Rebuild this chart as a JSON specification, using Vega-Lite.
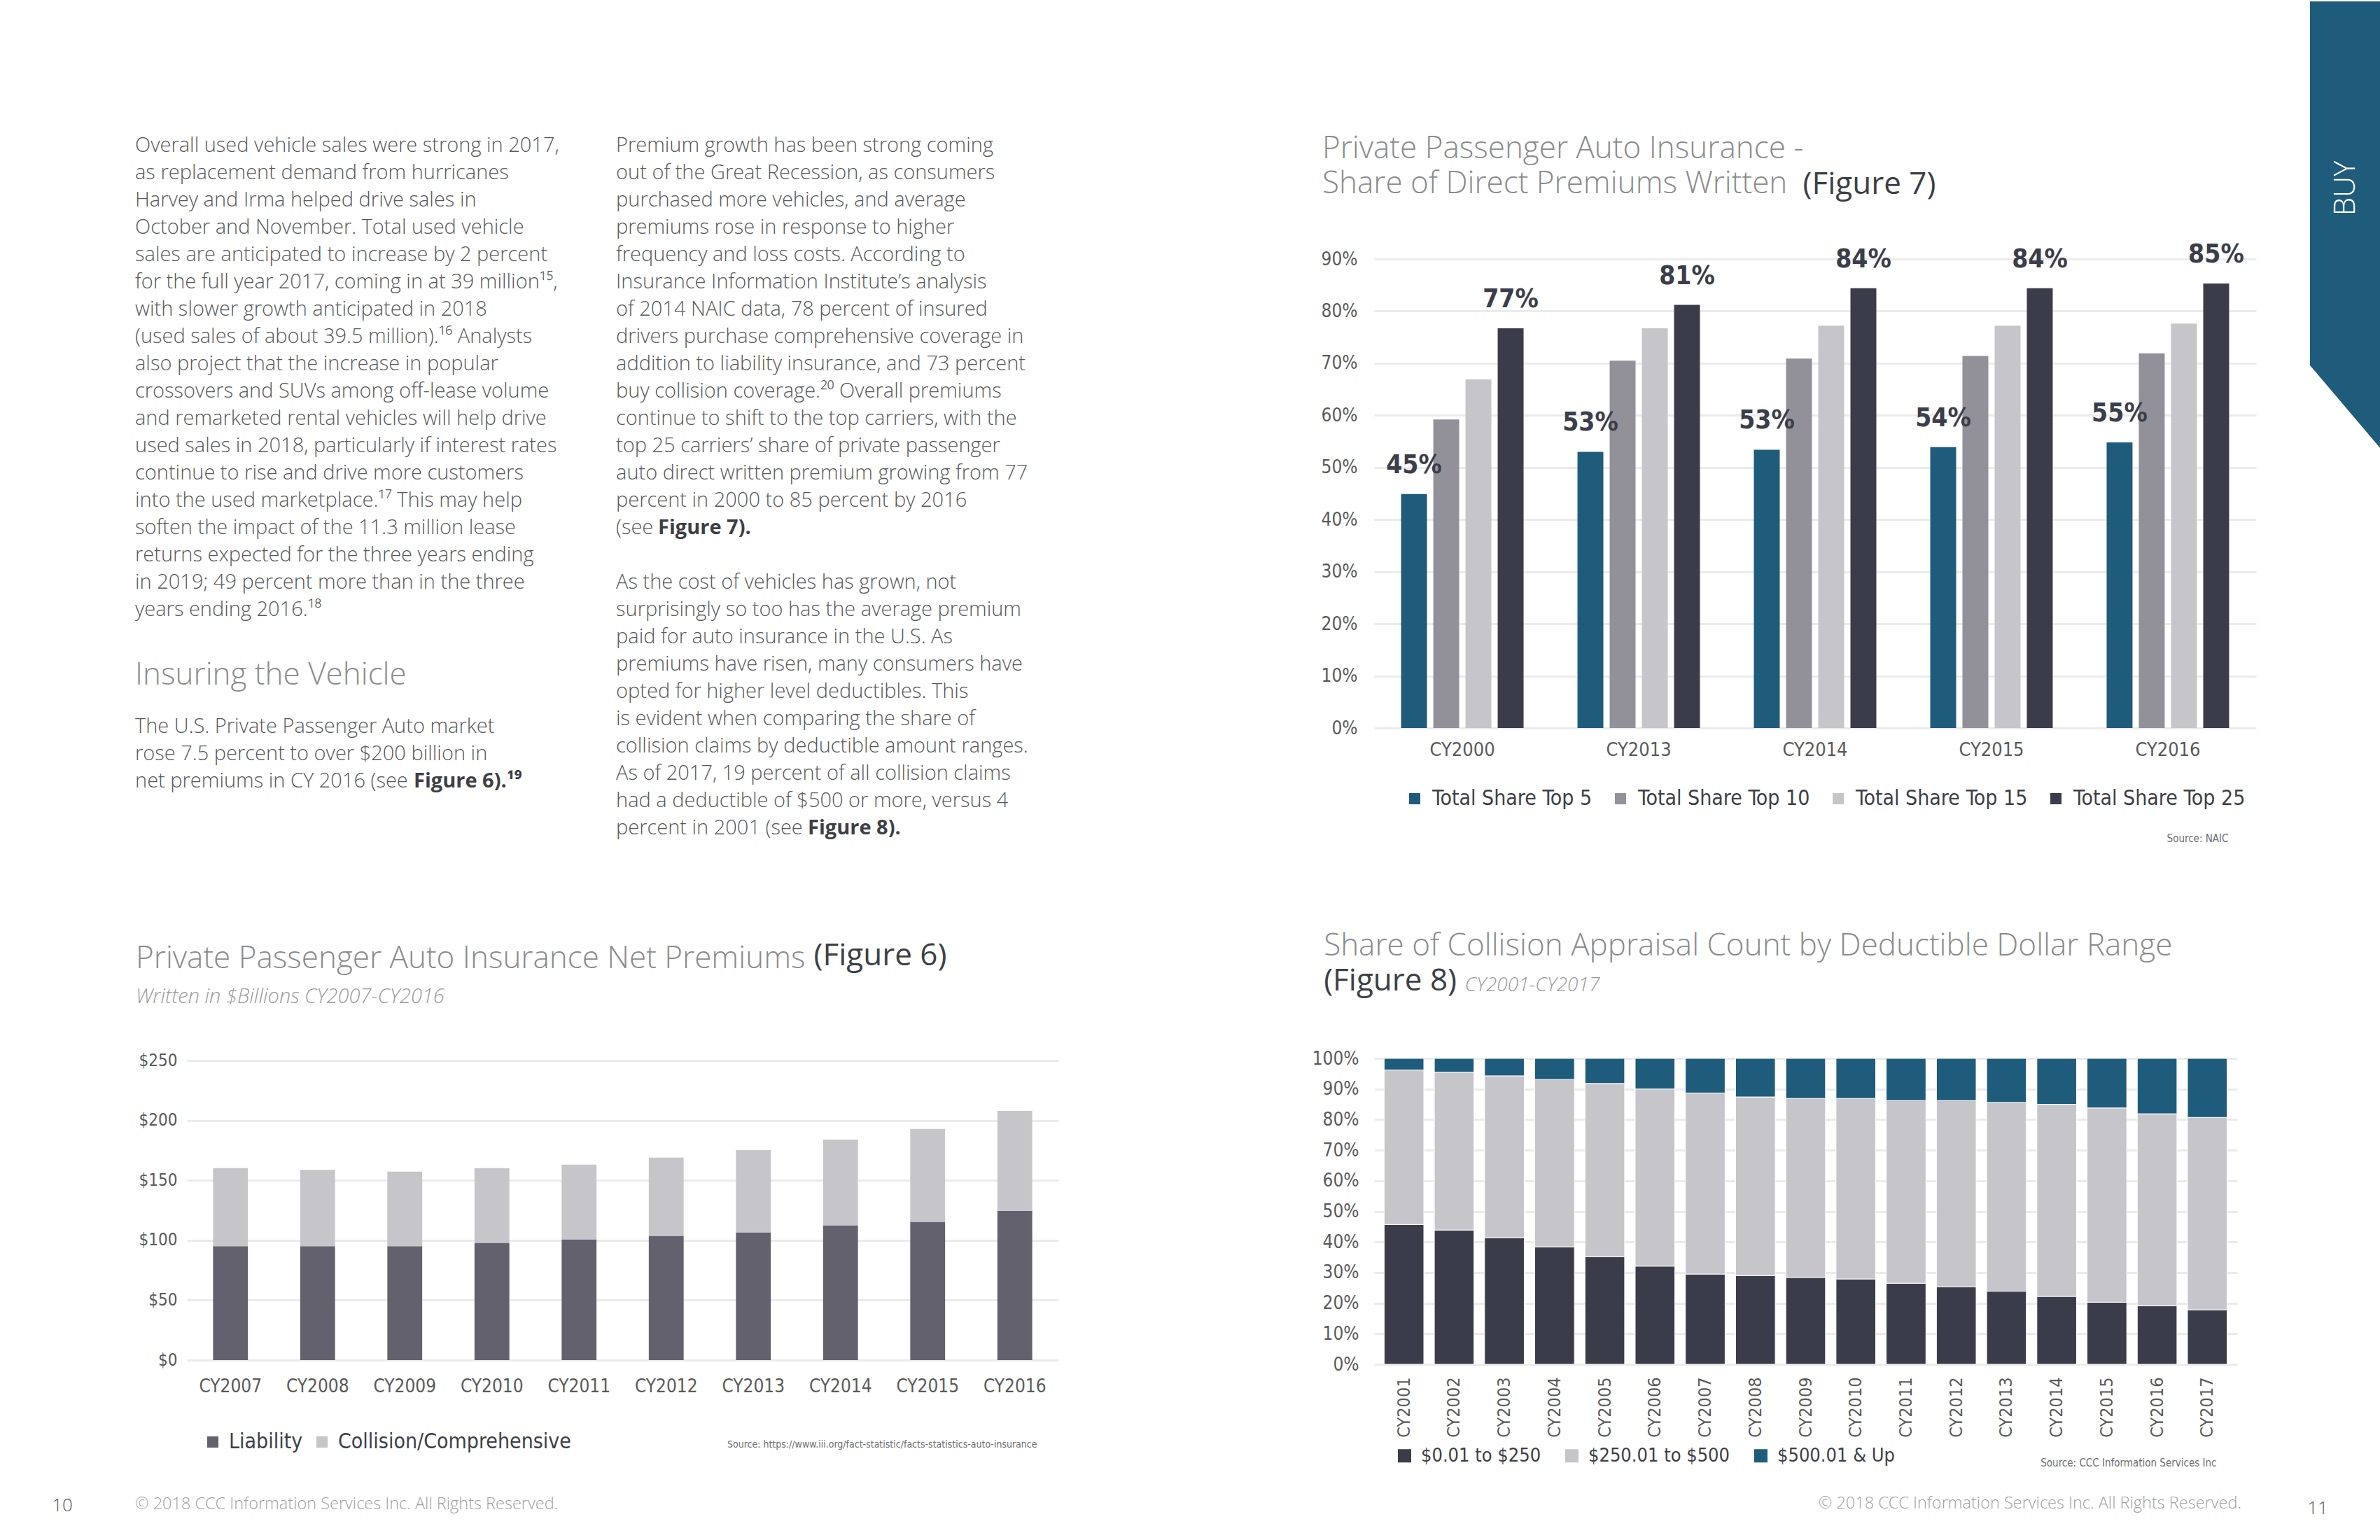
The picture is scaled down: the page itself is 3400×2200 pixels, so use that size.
{
  "$schema": "https://vega.github.io/schema/vega-lite/v6.json",
  "background": "white",
  "padding": 0,
  "spacing": 15,
  "resolve": {"scale": {"color": "independent", "x": "independent", "y": "independent"}, "legend": {"color": "independent"}},
  "config": {
    "view": {"stroke": null},
    "axis": {"domain": false, "ticks": false, "labelFont": "'Liberation Sans Narrow', 'DejaVu Sans Condensed', 'Roboto Condensed', Roboto, sans-serif", "labelColor": "#5a5a5a", "labelFontSize": 26, "gridColor": "#ebebeb", "gridWidth": 3},
    "legend": {"labelFont": "'Liberation Sans Narrow', 'DejaVu Sans Condensed', 'Roboto Condensed', Roboto, sans-serif", "labelColor": "#3d3f47", "labelFontSize": 30, "symbolType": "square", "symbolStrokeWidth": 0, "direction": "horizontal", "labelLimit": 600}
  },
  "hconcat": [
    {
      "width": 178, "height": 1781,
      "data": {"values": [{"t": "10"}]},
      "mark": {"type": "text", "font": "'Open Sans', Lato, sans-serif", "fontSize": 26, "fontWeight": 300, "color": "#555555", "align": "center", "baseline": "middle"},
      "encoding": {"text": {"field": "t"}, "y": {"value": "height"}}
    },
    {
      "spacing": 362,
      "resolve": {"scale": {"color": "independent", "x": "independent", "y": "independent"}, "legend": {"color": "independent"}},
      "hconcat": [
        {
          "spacing": 0,
          "resolve": {"scale": {"color": "independent", "x": "independent", "y": "independent"}, "legend": {"color": "independent"}},
          "vconcat": [
            {
              "width": 1245, "height": 973,
              "data": {"values": [
                {"col": 1, "line": 0, "kind": "body", "text": "Overall used vehicle sales were strong in 2017,"},
                {"col": 1, "line": 1, "kind": "body", "text": "as replacement demand from hurricanes"},
                {"col": 1, "line": 2, "kind": "body", "text": "Harvey and Irma helped drive sales in"},
                {"col": 1, "line": 3, "kind": "body", "text": "October and November.  Total used vehicle"},
                {"col": 1, "line": 4, "kind": "body", "text": "sales are anticipated to increase by 2 percent"},
                {"col": 1, "line": 5, "kind": "body", "text": "for the full year 2017, coming in at 39 million¹⁵,"},
                {"col": 1, "line": 6, "kind": "body", "text": "with slower growth anticipated in 2018"},
                {"col": 1, "line": 7, "kind": "body", "text": "(used sales of about 39.5 million).¹⁶  Analysts"},
                {"col": 1, "line": 8, "kind": "body", "text": "also project that the increase in popular"},
                {"col": 1, "line": 9, "kind": "body", "text": "crossovers and SUVs among off-lease volume"},
                {"col": 1, "line": 10, "kind": "body", "text": "and remarketed rental vehicles will help drive"},
                {"col": 1, "line": 11, "kind": "body", "text": "used sales in 2018, particularly if interest rates"},
                {"col": 1, "line": 12, "kind": "body", "text": "continue to rise and drive more customers"},
                {"col": 1, "line": 13, "kind": "body", "text": "into the used marketplace.¹⁷  This may help"},
                {"col": 1, "line": 14, "kind": "body", "text": "soften the impact of the 11.3 million lease"},
                {"col": 1, "line": 15, "kind": "body", "text": "returns expected for the three years ending"},
                {"col": 1, "line": 16, "kind": "body", "text": "in 2019; 49 percent more than in the three"},
                {"col": 1, "line": 17, "kind": "body", "text": "years ending 2016.¹⁸"},
                {"col": 1, "line": 19.41, "kind": "head", "text": "Insuring the Vehicle"},
                {"col": 1, "line": 21.28, "kind": "body", "text": "The U.S. Private Passenger Auto market"},
                {"col": 1, "line": 22.28, "kind": "body", "text": "rose 7.5 percent to over $200 billion in"},
                {"col": 1, "line": 23.28, "kind": "body", "text": "net premiums in CY 2016 (see"},
                {"col": 1, "line": 23.28, "kind": "b6", "text": "Figure 6).¹⁹"},
                {"col": 2, "line": 0, "kind": "body", "text": "Premium growth has been strong coming"},
                {"col": 2, "line": 1, "kind": "body", "text": "out of the Great Recession, as consumers"},
                {"col": 2, "line": 2, "kind": "body", "text": "purchased more vehicles, and average"},
                {"col": 2, "line": 3, "kind": "body", "text": "premiums rose in response to higher"},
                {"col": 2, "line": 4, "kind": "body", "text": "frequency and loss costs.  According to"},
                {"col": 2, "line": 5, "kind": "body", "text": "Insurance Information Institute’s analysis"},
                {"col": 2, "line": 6, "kind": "body", "text": "of 2014 NAIC data, 78 percent of insured"},
                {"col": 2, "line": 7, "kind": "body", "text": "drivers purchase comprehensive coverage in"},
                {"col": 2, "line": 8, "kind": "body", "text": "addition to liability insurance, and 73 percent"},
                {"col": 2, "line": 9, "kind": "body", "text": "buy collision coverage.²⁰  Overall premiums"},
                {"col": 2, "line": 10, "kind": "body", "text": "continue to shift to the top carriers, with the"},
                {"col": 2, "line": 11, "kind": "body", "text": "top 25 carriers’ share of private passenger"},
                {"col": 2, "line": 12, "kind": "body", "text": "auto direct written premium growing from 77"},
                {"col": 2, "line": 13, "kind": "body", "text": "percent in 2000 to 85 percent by 2016"},
                {"col": 2, "line": 14, "kind": "body", "text": "(see"},
                {"col": 2, "line": 14, "kind": "b7", "text": "Figure 7)."},
                {"col": 2, "line": 16, "kind": "body", "text": "As the cost of vehicles has grown, not"},
                {"col": 2, "line": 17, "kind": "body", "text": "surprisingly so too has the average premium"},
                {"col": 2, "line": 18, "kind": "body", "text": "paid for auto insurance in the U.S.  As"},
                {"col": 2, "line": 19, "kind": "body", "text": "premiums have risen, many consumers have"},
                {"col": 2, "line": 20, "kind": "body", "text": "opted for higher level deductibles.  This"},
                {"col": 2, "line": 21, "kind": "body", "text": "is evident when comparing the share of"},
                {"col": 2, "line": 22, "kind": "body", "text": "collision claims by deductible amount ranges."},
                {"col": 2, "line": 23, "kind": "body", "text": "As of 2017, 19 percent of all collision claims"},
                {"col": 2, "line": 24, "kind": "body", "text": "had a deductible of $500 or more, versus 4"},
                {"col": 2, "line": 25, "kind": "body", "text": "percent in 2001 (see"},
                {"col": 2, "line": 25, "kind": "b8", "text": "Figure 8)."}
              ]},
              "encoding": {
                "x": {"field": "col", "type": "quantitative", "scale": {"domain": [1.1077, 2.9199], "nice": false, "zero": false}, "axis": null},
                "y": {"field": "line", "type": "quantitative", "scale": {"domain": [4.154, 29.103], "reverse": true, "nice": false, "zero": false}, "axis": null},
                "text": {"field": "text"}
              },
              "layer": [
                {"transform": [{"filter": "datum.kind == 'body'"}], "mark": {"type": "text", "align": "left", "baseline": "middle", "font": "'Open Sans', Lato, sans-serif", "fontSize": 29, "fontWeight": 300, "color": "#58595b"}},
                {"transform": [{"filter": "datum.kind == 'head'"}], "mark": {"type": "text", "align": "left", "baseline": "middle", "font": "'Open Sans', Lato, sans-serif", "fontSize": 44, "fontWeight": 300, "color": "#8b8c8e"}},
                {"transform": [{"filter": "datum.kind == 'b6'"}], "mark": {"type": "text", "align": "left", "baseline": "middle", "dx": 398, "font": "'Open Sans', Lato, sans-serif", "fontSize": 29, "fontWeight": "bold", "color": "#3d3f47"}},
                {"transform": [{"filter": "datum.kind == 'b7'"}], "mark": {"type": "text", "align": "left", "baseline": "middle", "dx": 60, "font": "'Open Sans', Lato, sans-serif", "fontSize": 29, "fontWeight": "bold", "color": "#3d3f47"}},
                {"transform": [{"filter": "datum.kind == 'b8'"}], "mark": {"type": "text", "align": "left", "baseline": "middle", "dx": 274, "font": "'Open Sans', Lato, sans-serif", "fontSize": 29, "fontWeight": "bold", "color": "#3d3f47"}}
              ]
            },
            {
              "width": 1245, "height": 428,
              "title": {"text": "Private Passenger Auto Insurance Net Premiums", "subtitle": "Written in $Billions CY2007-CY2016", "anchor": "start", "frame": "bounds", "dx": -4, "offset": -96, "font": "'Open Sans', Lato, sans-serif", "fontSize": 44, "fontWeight": 300, "color": "#8a8b8d", "subtitleFont": "'Open Sans', Lato, sans-serif", "subtitleFontSize": 29, "subtitleFontStyle": "italic", "subtitleFontWeight": 300, "subtitleColor": "#9a9a9c", "subtitlePadding": 18},
              "data": {"values": [
                {"year": "CY2007", "type": "Liability", "value": 95.0}, {"year": "CY2007", "type": "Collision/Comprehensive", "value": 65.2},
                {"year": "CY2008", "type": "Liability", "value": 95.0}, {"year": "CY2008", "type": "Collision/Comprehensive", "value": 63.7},
                {"year": "CY2009", "type": "Liability", "value": 95.0}, {"year": "CY2009", "type": "Collision/Comprehensive", "value": 62.3},
                {"year": "CY2010", "type": "Liability", "value": 97.9}, {"year": "CY2010", "type": "Collision/Comprehensive", "value": 62.3},
                {"year": "CY2011", "type": "Liability", "value": 100.8}, {"year": "CY2011", "type": "Collision/Comprehensive", "value": 62.3},
                {"year": "CY2012", "type": "Liability", "value": 103.7}, {"year": "CY2012", "type": "Collision/Comprehensive", "value": 65.2},
                {"year": "CY2013", "type": "Liability", "value": 106.6}, {"year": "CY2013", "type": "Collision/Comprehensive", "value": 68.7},
                {"year": "CY2014", "type": "Liability", "value": 112.4}, {"year": "CY2014", "type": "Collision/Comprehensive", "value": 71.6},
                {"year": "CY2015", "type": "Liability", "value": 115.3}, {"year": "CY2015", "type": "Collision/Comprehensive", "value": 77.6},
                {"year": "CY2016", "type": "Liability", "value": 124.6}, {"year": "CY2016", "type": "Collision/Comprehensive", "value": 83.4}
              ]},
              "mark": {"type": "bar"},
              "encoding": {
                "x": {"field": "year", "type": "nominal", "scale": {"paddingInner": 0.6, "paddingOuter": 0.3}, "axis": {"labelAngle": 0, "labelPadding": 24, "title": "Source: https://www.iii.org/fact-statistic/facts-statistics-auto-insurance", "titleX": 1214, "titleY": 120, "titleAlign": "right", "titleBaseline": "middle", "titleFont": "'Liberation Sans Narrow', 'DejaVu Sans Condensed', 'Roboto Condensed', Roboto, sans-serif", "titleFontSize": 14, "titleFontWeight": "normal", "titleColor": "#6d6e70"}},
                "y": {"field": "value", "type": "quantitative", "stack": "zero", "scale": {"domain": [0, 250], "nice": false}, "axis": {"values": [0, 50, 100, 150, 200, 250], "labelExpr": "'$' + datum.value", "labelFontSize": 24, "labelPadding": 14, "title": "(Figure 6)", "titleAngle": 0, "titleX": 895, "titleY": -137, "titleAlign": "left", "titleBaseline": "alphabetic", "titleFont": "'Open Sans', Lato, sans-serif", "titleFontSize": 44, "titleFontWeight": 400, "titleColor": "#3d3f47"}},
                "color": {"field": "type", "type": "nominal", "scale": {"domain": ["Liability", "Collision/Comprehensive"], "range": ["#63616e", "#c6c5ca"]}, "legend": {"title": null, "orient": "none", "legendX": 22, "legendY": 530, "columnPadding": 12, "symbolSize": 256, "labelOffset": 8}},
                "order": {"field": "type", "sort": "descending"}
              }
            },
            {
              "width": 1245, "height": 148,
              "data": {"values": [{"col": 1, "t": "© 2018 CCC Information Services Inc. All Rights Reserved."}]},
              "mark": {"type": "text", "align": "left", "baseline": "middle", "font": "'Open Sans', Lato, sans-serif", "fontSize": 23.5, "fontWeight": 300, "color": "#a0a0a2"},
              "encoding": {"text": {"field": "t"}, "x": {"field": "col", "type": "quantitative", "scale": {"domain": [1.1077, 2.9199], "nice": false, "zero": false}, "axis": null}}
            }
          ]
        },
        {
          "spacing": 73,
          "resolve": {"scale": {"color": "independent", "x": "independent", "y": "independent"}, "legend": {"color": "independent"}},
          "hconcat": [
            {
              "spacing": 0,
              "resolve": {"scale": {"color": "independent", "x": "independent", "y": "independent"}, "legend": {"color": "independent"}},
              "vconcat": [
                {
                  "width": 1260, "height": 670,
                  "title": {"text": ["", "Private Passenger Auto Insurance -"], "lineHeight": 191, "subtitle": "Share of Direct Premiums Written", "anchor": "start", "frame": "bounds", "dx": 2, "offset": -44, "font": "'Open Sans', Lato, sans-serif", "fontSize": 44, "fontWeight": 300, "color": "#8a8b8d", "subtitleFont": "'Open Sans', Lato, sans-serif", "subtitleFontSize": 44, "subtitleFontWeight": 300, "subtitleColor": "#8a8b8d", "subtitlePadding": 6},
                  "data": {"values": [
                    {"year": "CY2000", "series": "Total Share Top 5", "share": 0.449}, {"year": "CY2000", "series": "Total Share Top 10", "share": 0.592}, {"year": "CY2000", "series": "Total Share Top 15", "share": 0.669}, {"year": "CY2000", "series": "Total Share Top 25", "share": 0.767},
                    {"year": "CY2013", "series": "Total Share Top 5", "share": 0.530}, {"year": "CY2013", "series": "Total Share Top 10", "share": 0.705}, {"year": "CY2013", "series": "Total Share Top 15", "share": 0.767}, {"year": "CY2013", "series": "Total Share Top 25", "share": 0.812},
                    {"year": "CY2014", "series": "Total Share Top 5", "share": 0.534}, {"year": "CY2014", "series": "Total Share Top 10", "share": 0.709}, {"year": "CY2014", "series": "Total Share Top 15", "share": 0.772}, {"year": "CY2014", "series": "Total Share Top 25", "share": 0.844},
                    {"year": "CY2015", "series": "Total Share Top 5", "share": 0.539}, {"year": "CY2015", "series": "Total Share Top 10", "share": 0.714}, {"year": "CY2015", "series": "Total Share Top 15", "share": 0.772}, {"year": "CY2015", "series": "Total Share Top 25", "share": 0.844},
                    {"year": "CY2016", "series": "Total Share Top 5", "share": 0.548}, {"year": "CY2016", "series": "Total Share Top 10", "share": 0.719}, {"year": "CY2016", "series": "Total Share Top 15", "share": 0.776}, {"year": "CY2016", "series": "Total Share Top 25", "share": 0.853}
                  ]},
                  "encoding": {
                    "x": {"field": "year", "type": "nominal", "scale": {"paddingInner": 0.3056, "paddingOuter": 0.153}, "axis": {"labelAngle": 0, "labelPadding": 18, "labelFontSize": 27, "title": "Source: NAIC", "titleX": 1220, "titleY": 157, "titleAlign": "right", "titleBaseline": "middle", "titleFont": "'Liberation Sans Narrow', 'DejaVu Sans Condensed', 'Roboto Condensed', Roboto, sans-serif", "titleFontSize": 15, "titleFontWeight": "normal", "titleColor": "#6d6e70"}},
                    "xOffset": {"field": "series", "type": "nominal", "scale": {"domain": ["Total Share Top 5", "Total Share Top 10", "Total Share Top 15", "Total Share Top 25"], "paddingInner": 0.196, "paddingOuter": 0}},
                    "y": {"field": "share", "type": "quantitative", "scale": {"domain": [0, 0.9], "nice": false}, "axis": {"values": [0, 0.1, 0.2, 0.3, 0.4, 0.5, 0.6, 0.7, 0.8, 0.9], "format": ".0%", "labelPadding": 24, "title": "(Figure 7)", "titleAngle": 0, "titleX": 612, "titleY": -94, "titleAlign": "left", "titleBaseline": "alphabetic", "titleFont": "'Open Sans', Lato, sans-serif", "titleFontSize": 44, "titleFontWeight": 400, "titleColor": "#3d3f47"}}
                  },
                  "layer": [
                    {"mark": {"type": "bar"}, "encoding": {"color": {"field": "series", "type": "nominal", "scale": {"domain": ["Total Share Top 5", "Total Share Top 10", "Total Share Top 15", "Total Share Top 25"], "range": ["#1f5c7c", "#929199", "#c6c5ca", "#3a3d49"]}, "legend": {"title": null, "orient": "none", "legendX": 43, "legendY": 756, "columnPadding": 25, "symbolSize": 256, "labelOffset": 10}}}},
                    {"transform": [{"filter": "datum.series == 'Total Share Top 5' || datum.series == 'Total Share Top 25'"}], "mark": {"type": "text", "baseline": "alphabetic", "dy": -30, "font": "'Liberation Sans Narrow', 'DejaVu Sans Condensed', 'Roboto Condensed', Roboto, sans-serif", "fontSize": 37, "fontWeight": 600, "color": "#3b3e4a"}, "encoding": {"text": {"field": "share", "format": ".0%"}}}
                  ]
                },
                {
                  "width": 1233, "height": 437,
                  "title": {"text": ["", "Share of Collision Appraisal Count by Deductible Dollar Range"], "lineHeight": 125, "subtitle": "(Figure 8)", "anchor": "start", "frame": "bounds", "dx": 17, "offset": -31, "font": "'Open Sans', Lato, sans-serif", "fontSize": 44, "fontWeight": 300, "color": "#8a8b8d", "subtitleFont": "'Open Sans', Lato, sans-serif", "subtitleFontSize": 44, "subtitleFontWeight": 400, "subtitleColor": "#3d3f47", "subtitlePadding": 6},
                  "data": {"values": [
                    {"year": "CY2001", "range": "$0.01 to $250", "share": 0.457}, {"year": "CY2001", "range": "$250.01 to $500", "share": 0.505}, {"year": "CY2001", "range": "$500.01 & Up", "share": 0.038},
                    {"year": "CY2002", "range": "$0.01 to $250", "share": 0.439}, {"year": "CY2002", "range": "$250.01 to $500", "share": 0.516}, {"year": "CY2002", "range": "$500.01 & Up", "share": 0.045},
                    {"year": "CY2003", "range": "$0.01 to $250", "share": 0.414}, {"year": "CY2003", "range": "$250.01 to $500", "share": 0.529}, {"year": "CY2003", "range": "$500.01 & Up", "share": 0.057},
                    {"year": "CY2004", "range": "$0.01 to $250", "share": 0.384}, {"year": "CY2004", "range": "$250.01 to $500", "share": 0.547}, {"year": "CY2004", "range": "$500.01 & Up", "share": 0.069},
                    {"year": "CY2005", "range": "$0.01 to $250", "share": 0.352}, {"year": "CY2005", "range": "$250.01 to $500", "share": 0.566}, {"year": "CY2005", "range": "$500.01 & Up", "share": 0.082},
                    {"year": "CY2006", "range": "$0.01 to $250", "share": 0.321}, {"year": "CY2006", "range": "$250.01 to $500", "share": 0.579}, {"year": "CY2006", "range": "$500.01 & Up", "share": 0.100},
                    {"year": "CY2007", "range": "$0.01 to $250", "share": 0.295}, {"year": "CY2007", "range": "$250.01 to $500", "share": 0.592}, {"year": "CY2007", "range": "$500.01 & Up", "share": 0.113},
                    {"year": "CY2008", "range": "$0.01 to $250", "share": 0.290}, {"year": "CY2008", "range": "$250.01 to $500", "share": 0.584}, {"year": "CY2008", "range": "$500.01 & Up", "share": 0.126},
                    {"year": "CY2009", "range": "$0.01 to $250", "share": 0.284}, {"year": "CY2009", "range": "$250.01 to $500", "share": 0.585}, {"year": "CY2009", "range": "$500.01 & Up", "share": 0.131},
                    {"year": "CY2010", "range": "$0.01 to $250", "share": 0.279}, {"year": "CY2010", "range": "$250.01 to $500", "share": 0.590}, {"year": "CY2010", "range": "$500.01 & Up", "share": 0.131},
                    {"year": "CY2011", "range": "$0.01 to $250", "share": 0.265}, {"year": "CY2011", "range": "$250.01 to $500", "share": 0.597}, {"year": "CY2011", "range": "$500.01 & Up", "share": 0.138},
                    {"year": "CY2012", "range": "$0.01 to $250", "share": 0.253}, {"year": "CY2012", "range": "$250.01 to $500", "share": 0.609}, {"year": "CY2012", "range": "$500.01 & Up", "share": 0.138},
                    {"year": "CY2013", "range": "$0.01 to $250", "share": 0.239}, {"year": "CY2013", "range": "$250.01 to $500", "share": 0.617}, {"year": "CY2013", "range": "$500.01 & Up", "share": 0.144},
                    {"year": "CY2014", "range": "$0.01 to $250", "share": 0.222}, {"year": "CY2014", "range": "$250.01 to $500", "share": 0.628}, {"year": "CY2014", "range": "$500.01 & Up", "share": 0.150},
                    {"year": "CY2015", "range": "$0.01 to $250", "share": 0.203}, {"year": "CY2015", "range": "$250.01 to $500", "share": 0.635}, {"year": "CY2015", "range": "$500.01 & Up", "share": 0.162},
                    {"year": "CY2016", "range": "$0.01 to $250", "share": 0.191}, {"year": "CY2016", "range": "$250.01 to $500", "share": 0.628}, {"year": "CY2016", "range": "$500.01 & Up", "share": 0.181},
                    {"year": "CY2017", "range": "$0.01 to $250", "share": 0.178}, {"year": "CY2017", "range": "$250.01 to $500", "share": 0.629}, {"year": "CY2017", "range": "$500.01 & Up", "share": 0.193}
                  ]},
                  "mark": {"type": "bar", "stroke": "white", "strokeWidth": 1},
                  "encoding": {
                    "x": {"field": "year", "type": "nominal", "scale": {"paddingInner": 0.21, "paddingOuter": 0.2}, "axis": {"labelAngle": -90, "labelPadding": 18, "labelFontSize": 25, "title": "Source: CCC Information Services Inc", "titleX": 1203, "titleY": 140, "titleAlign": "right", "titleBaseline": "middle", "titleFont": "'Liberation Sans Narrow', 'DejaVu Sans Condensed', 'Roboto Condensed', Roboto, sans-serif", "titleFontSize": 15, "titleFontWeight": "normal", "titleColor": "#6d6e70"}},
                    "y": {"field": "share", "type": "quantitative", "stack": "zero", "scale": {"domain": [0, 1], "nice": false}, "axis": {"values": [0, 0.1, 0.2, 0.3, 0.4, 0.5, 0.6, 0.7, 0.8, 0.9, 1], "format": ".0%", "labelPadding": 22, "title": "CY2001-CY2017", "titleAngle": 0, "titleX": 129, "titleY": -97, "titleAlign": "left", "titleBaseline": "alphabetic", "titleFont": "'Open Sans', Lato, sans-serif", "titleFontSize": 28, "titleFontStyle": "italic", "titleFontWeight": 300, "titleColor": "#9a9a9c"}},
                    "color": {"field": "range", "type": "nominal", "scale": {"domain": ["$0.01 to $250", "$250.01 to $500", "$500.01 & Up"], "range": ["#3a3d49", "#c6c5ca", "#1f5c7c"]}, "legend": {"title": null, "orient": "none", "legendX": 30, "legendY": 554, "columnPadding": 30, "symbolSize": 361, "labelOffset": 10, "labelFontSize": 27}},
                    "order": {"field": "range", "sort": "ascending"}
                  }
                },
                {
                  "width": 1239, "height": 102,
                  "data": {"values": [{"t": "© 2018 CCC Information Services Inc. All Rights Reserved."}]},
                  "mark": {"type": "text", "align": "right", "baseline": "middle", "font": "'Open Sans', Lato, sans-serif", "fontSize": 23.5, "fontWeight": 300, "color": "#a0a0a2"},
                  "encoding": {"text": {"field": "t"}, "x": {"value": "width"}}
                }
              ]
            },
            {
              "spacing": 1499,
              "vconcat": [
                {
                  "width": 102, "height": 272,
                  "data": {"values": [{"t": "BUY"}]},
                  "layer": [
                    {"mark": {"type": "point", "shape": "M -1 -9.882 L 1 -9.882 L 1 2.667 L -1 0.3137 Z", "size": 10404, "filled": true, "color": "#1f5b7a", "opacity": 1, "strokeWidth": 0}, "encoding": {}},
                    {"mark": {"type": "text", "angle": 270, "align": "center", "baseline": "middle", "dx": 237, "font": "'Open Sans', Lato, sans-serif", "fontSize": 42, "fontWeight": 300, "color": "white"}, "encoding": {"text": {"field": "t"}}}
                  ]
                },
                {
                  "width": 22, "height": 20,
                  "data": {"values": [{"t": "11"}]},
                  "mark": {"type": "text", "align": "center", "baseline": "middle", "font": "'Open Sans', Lato, sans-serif", "fontSize": 26, "fontWeight": 300, "color": "#555555"},
                  "encoding": {"text": {"field": "t"}}
                }
              ]
            }
          ]
        }
      ]
    }
  ]
}
